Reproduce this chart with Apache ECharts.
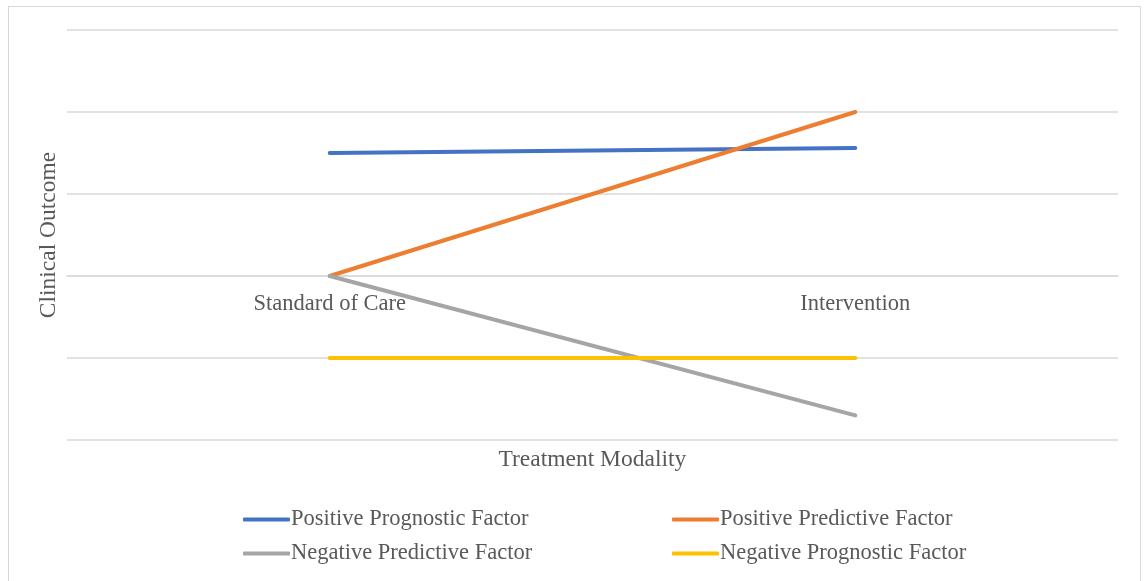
<!DOCTYPE html>
<html>
<head>
<meta charset="utf-8">
<script src="https://cdn.jsdelivr.net/npm/echarts@6/dist/echarts.min.js"></script>
<style>
  html, body { margin: 0; padding: 0; background: #fff; }
  #frame { position: absolute; left: 8px; top: 6px; width: 1133px; height: 600px; border: 1.5px solid #d9d9d9; box-sizing: border-box; }
  #chart { position: absolute; left: 0; top: 0; width: 1147px; height: 581px; }
</style>
</head>
<body>
<div id="frame"></div>
<div id="chart"></div>
<script>
// Categories and series values
const categories = ['Standard of Care', 'Intervention'];
const positivePrognostic = [1.5, 1.56];
const positivePredictive = [0, 2];
const negativePredictive = [0, -1.7];
const negativePrognostic = [-1, -1];

const seriesNames = [
  'Positive Prognostic Factor',
  'Positive Predictive Factor',
  'Negative Predictive Factor',
  'Negative Prognostic Factor'
];
const seriesValues = [positivePrognostic, positivePredictive, negativePredictive, negativePrognostic];
const seriesColors = ['#4472C4', '#ED7D31', '#A5A5A5', '#FFC000'];

const FONT = '"Liberation Serif", "Times New Roman", serif';
const TEXT = '#595959';

const GRID = { left: 67, right: 29, top: 30, bottom: 141 };
const Y_MIN = -2, Y_MAX = 3;

const chart = echarts.init(document.getElementById('chart'), null, { renderer: 'canvas' });

// One legend per item so the entries sit in a 2x2 block
const legendSpots = [
  { left: 243, top: 508 },
  { left: 672, top: 508 },
  { left: 243, top: 542 },
  { left: 672, top: 542 }
];
const legends = seriesNames.map((name, i) => ({
  data: [name],
  left: legendSpots[i].left,
  top: legendSpots[i].top,
  orient: 'horizontal',
  itemWidth: 47,
  itemHeight: 4,
  itemGap: 0,
  icon: 'roundRect',
  textStyle: { fontFamily: FONT, fontSize: 22.5, color: TEXT, padding: [0, 0, 0, -4] },
  padding: 0
}));

// Lift the category axis from the plot bottom up to the zero line
const plotHeight = 581 - GRID.top - GRID.bottom;
const zeroLift = -plotHeight * (0 - Y_MIN) / (Y_MAX - Y_MIN);

chart.setOption({
  animation: false,
  grid: Object.assign({ containLabel: false }, GRID),
  legend: legends,
  // x-axis title sits under the plot, apart from the zero-line axis
  graphic: [{
    type: 'text',
    left: GRID.left + (1147 - GRID.left - GRID.right) / 2 - 94,
    top: 448,
    style: { text: 'Treatment Modality', font: '23.5px ' + FONT, fill: TEXT }
  }],
  xAxis: {
    type: 'category',
    data: categories,
    boundaryGap: true,
    position: 'bottom',
    offset: zeroLift,
    axisLine: { show: true, onZero: false, lineStyle: { color: '#d9d9d9', width: 1.5 } },
    axisTick: { show: false },
    axisLabel: { fontFamily: FONT, fontSize: 22.5, color: TEXT, margin: 17 }
  },
  yAxis: {
    type: 'value',
    min: Y_MIN,
    max: Y_MAX,
    interval: 1,
    axisLine: { show: false },
    axisTick: { show: false },
    axisLabel: { show: false },
    splitLine: { lineStyle: { color: '#d9d9d9', width: 1.5 } },
    name: 'Clinical Outcome',
    nameLocation: 'middle',
    nameGap: 6,
    nameRotate: 90,
    nameTextStyle: { fontFamily: FONT, fontSize: 23.5, color: TEXT }
  },
  series: seriesNames.map((name, i) => ({
    name: name,
    type: 'line',
    data: seriesValues[i],
    symbol: 'none',
    color: seriesColors[i],
    lineStyle: { width: 4, color: seriesColors[i], cap: 'round' }
  }))
});
</script>
</body>
</html>
